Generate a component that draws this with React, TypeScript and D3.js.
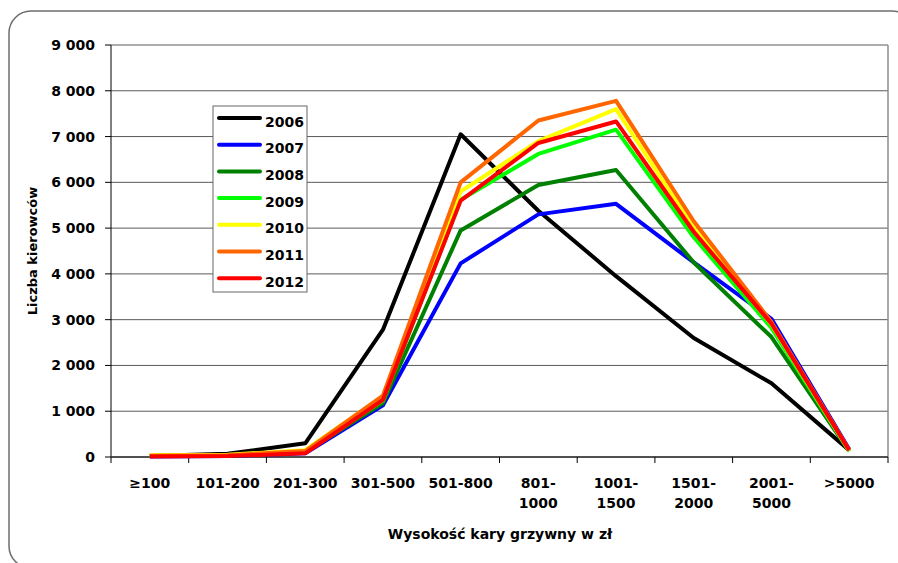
import React from 'react';
import * as d3 from 'd3';

// Kary grzywny: liczba kierowców wg wysokości kary, lata 2006-2012

const categories = ['≥100', '101-200', '201-300', '301-500', '501-800', '801-1000', '1001-1500', '1501-2000', '2001-5000', '>5000'];
const categoryLabels = [['≥100'], ['101-200'], ['201-300'], ['301-500'], ['501-800'], ['801-', '1000'], ['1001-', '1500'], ['1501-', '2000'], ['2001-', '5000'], ['>5000']];

const years = ['2006', '2007', '2008', '2009', '2010', '2011', '2012'];
const colors = ['#000000', '#0000ff', '#008000', '#00ff00', '#ffff00', '#ff6600', '#ff0000'];

const v2006 = [20, 70, 300, 2780, 7050, 5380, 3950, 2600, 1610, 150];
const v2007 = [10, 20, 80, 1130, 4230, 5300, 5530, 4250, 3020, 170];
const v2008 = [20, 30, 100, 1180, 4950, 5940, 6270, 4250, 2620, 130];
const v2009 = [30, 40, 120, 1230, 5620, 6620, 7150, 4800, 2820, 130];
const v2010 = [40, 50, 150, 1330, 5800, 6900, 7600, 5000, 2900, 140];
const v2011 = [30, 40, 130, 1340, 6000, 7350, 7780, 5150, 2950, 150];
const v2012 = [10, 20, 80, 1250, 5600, 6860, 7330, 4920, 2910, 150];
const series = [v2006, v2007, v2008, v2009, v2010, v2011, v2012];

const yTicks = [0, 1000, 2000, 3000, 4000, 5000, 6000, 7000, 8000, 9000];

const W = 898;
const H = 563;
const font = '"DejaVu Sans", Verdana, sans-serif';

export default function App() {
  const x = d3.scaleBand<string>().domain(categories).range([111, 888]);
  const y = d3.scaleLinear().domain([0, 9000]).range([457, 45]);

  const line = d3.line<number>()
    .x((_, i) => (x(categories[i]) as number) + x.bandwidth() / 2)
    .y(d => y(d));

  const fmt = (v: number) => d3.format(',')(v).replace(/,/g, ' ');
  const ticksX = categories.map(c => x(c) as number).concat([x.range()[1]]);

  return (
    <svg width={W} height={H} style={{ position: 'absolute', left: 0, top: 0, background: '#fff' }} fontFamily={font}>
      <rect x={9} y={11} width={905} height={557} rx={22} fill="#fff" stroke="#6e6e6e" strokeWidth={1.5} />

      {/* siatka */}
      {yTicks.map(t => (
        <line key={t} x1={111} x2={888} y1={y(t)} y2={y(t)} stroke="#5a5a5a" strokeWidth={1} />
      ))}
      <line x1={888} x2={888} y1={y(9000)} y2={y(0)} stroke="#8c8c8c" strokeWidth={1.5} />

      {/* oś Y */}
      <line x1={111} x2={111} y1={y(9000)} y2={y(0)} stroke="#000" strokeWidth={1} />
      {yTicks.map(t => (
        <g key={'yt' + t}>
          <line x1={105} x2={111} y1={y(t)} y2={y(t)} stroke="#000" />
          <text x={95} y={y(t)} dy="0.36em" textAnchor="end" fontSize={14} fontWeight="bold">{fmt(t)}</text>
        </g>
      ))}

      {/* oś X */}
      <line x1={111} x2={888} y1={y(0)} y2={y(0)} stroke="#333" strokeWidth={1.5} />
      {ticksX.map((tx, i) => (
        <line key={'xt' + i} x1={tx} x2={tx} y1={y(0)} y2={y(0) + 6} stroke="#000" />
      ))}
      {categories.map((c, i) => (
        <text key={c} x={(x(c) as number) + x.bandwidth() / 2} y={488} textAnchor="middle" fontSize={14} fontWeight="bold">
          {categoryLabels[i].map((l, j) => (
            <tspan key={j} x={(x(c) as number) + x.bandwidth() / 2} dy={j === 0 ? 0 : 20}>{l}</tspan>
          ))}
        </text>
      ))}

      {/* tytuły osi */}
      <text x={500} y={539} textAnchor="middle" fontSize={14} fontWeight="bold">Wysokość kary grzywny w zł</text>
      <text transform={`translate(37,251) rotate(-90)`} textAnchor="middle" fontSize={13} fontWeight="bold">Liczba kierowców</text>

      {/* serie */}
      {series.map((s, i) => (
        <path key={years[i]} d={line(s) || ''} fill="none" stroke={colors[i]} strokeWidth={4} strokeLinejoin="round" />
      ))}

      {/* legenda */}
      <rect x={213} y={106} width={94} height={186} fill="#fff" stroke="#666" strokeWidth={1} />
      {years.map((yr, i) => (
        <g key={'lg' + yr} transform={`translate(0,${118 + i * 26.7})`}>
          <line x1={219} x2={260} y1={0} y2={0} stroke={colors[i]} strokeWidth={4} strokeLinecap="round" />
          <text x={265} y={0} dy="0.62em" fontSize={14} fontWeight="bold">{yr}</text>
        </g>
      ))}
    </svg>
  );
}
